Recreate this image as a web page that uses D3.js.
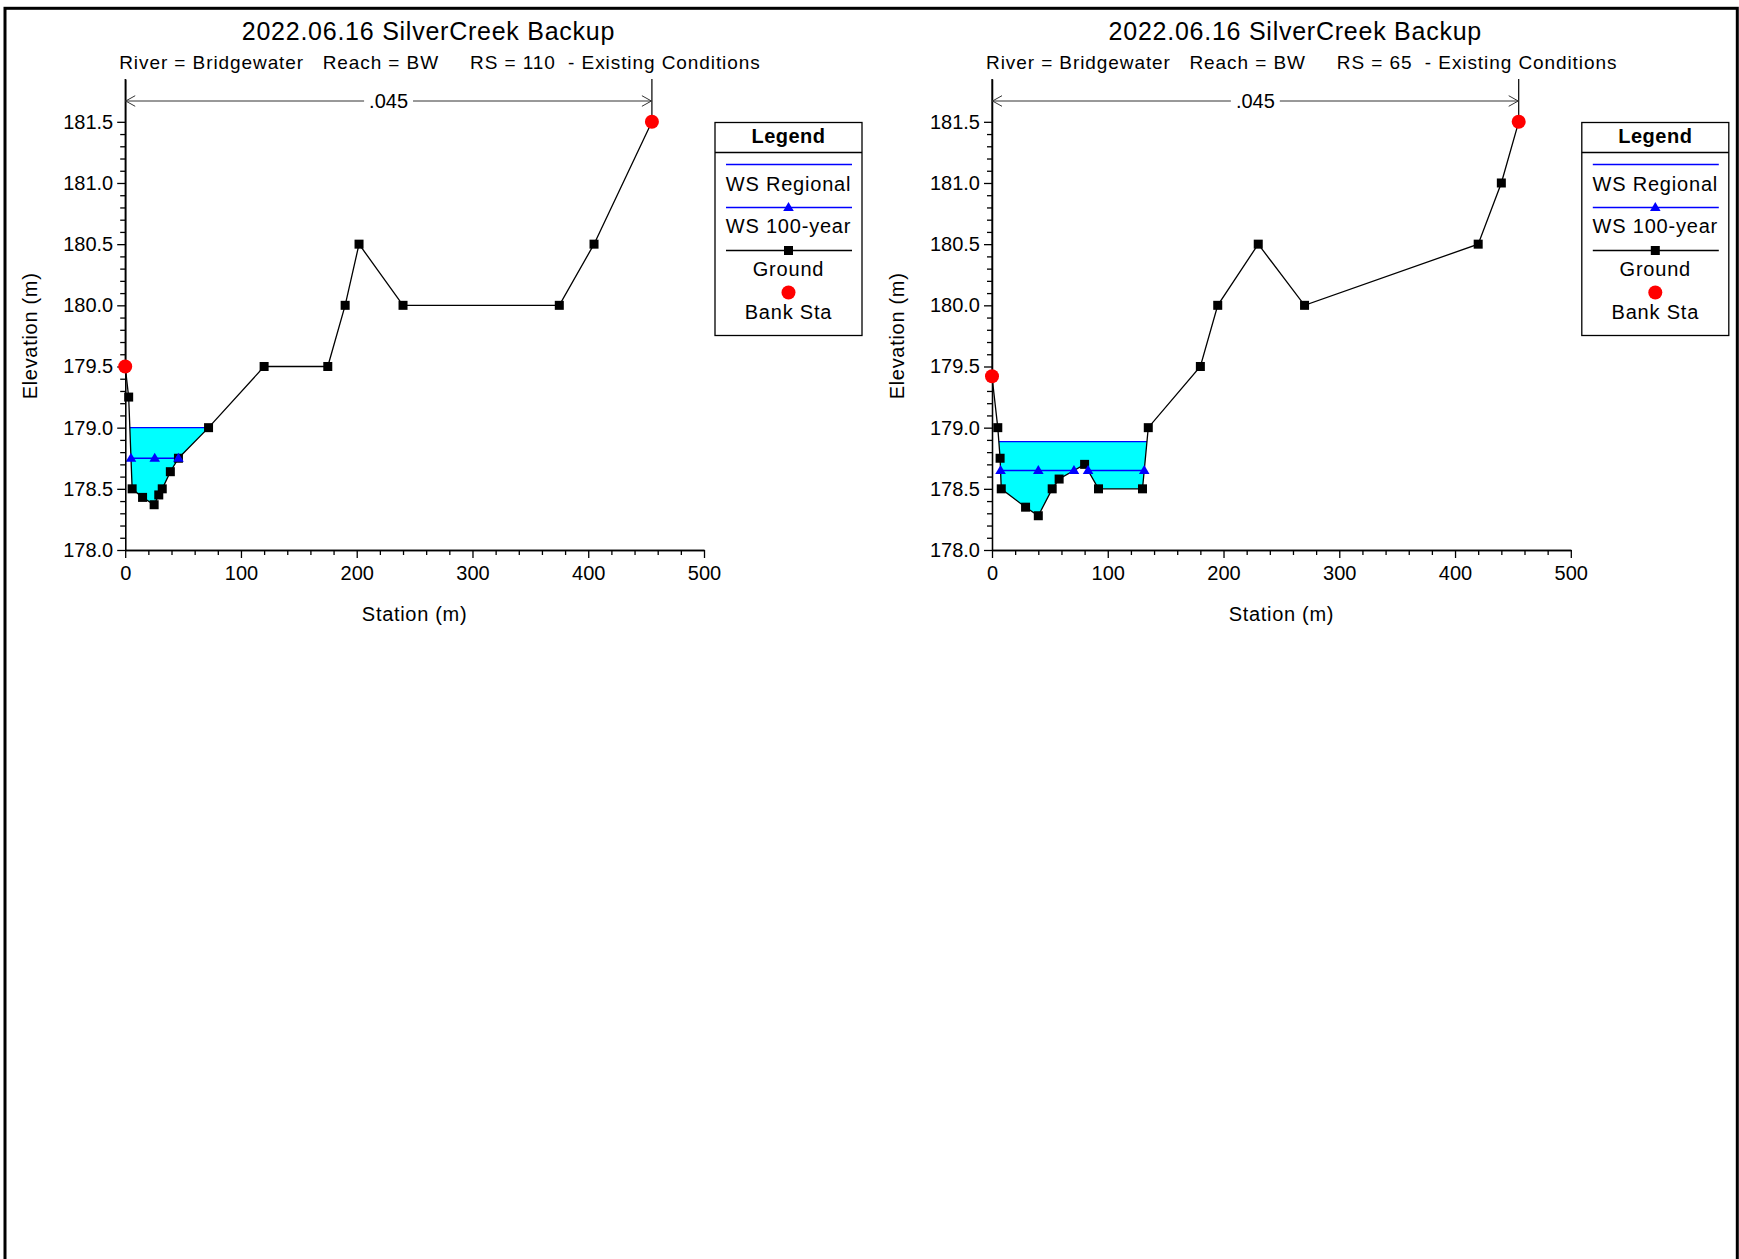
<!DOCTYPE html>
<html>
<head>
<meta charset="utf-8">
<script src="https://cdn.jsdelivr.net/npm/d3@7"></script>
<style>
  html, body { margin: 0; padding: 0; background: #fff; }
  svg { display: block; }
  text { font-family: "Liberation Sans", Arial, Helvetica, sans-serif; fill: #000; }
</style>
</head>
<body>
<svg id="chart" width="1739" height="1259"></svg>
<script>
// ---- Cross-section data -------------------------------------------------
const plotTitle = "2022.06.16 SilverCreek Backup";
const xAxisTitle = "Station (m)";
const yAxisTitle = "Elevation (m)";

const xMajorTicks = [0, 100, 200, 300, 400, 500];
const xMinorStep = 20;
const yMajorTicks = [178.0, 178.5, 179.0, 179.5, 180.0, 180.5, 181.0, 181.5];
const yTickLabels = ["178.0", "178.5", "179.0", "179.5", "180.0", "180.5", "181.0", "181.5"];
const yMinorStep = 0.1;

const legendItems = ["WS Regional", "WS 100-year", "Ground", "Bank Sta"];

// RS 110
const rs110Subtitle = "River = Bridgewater   Reach = BW     RS = 110  - Existing Conditions";
const rs110Station = [0, 3, 6, 15, 25, 29, 32, 39, 46, 72, 120, 175, 190, 202, 240, 375, 405, 455];
const rs110Elev    = [179.5, 179.25, 178.5, 178.43, 178.37, 178.45, 178.5, 178.64, 178.75, 179.0,
                      179.5, 179.5, 180.0, 180.5, 180.0, 180.0, 180.5, 181.5];
const rs110BankSta = [0, 455];
const rs110WsRegional = 179.0;
const rs110Ws100 = 178.75;
const rs110Ws100Marks = [5, 25.5, 46];
const rs110ManningN = ".045";

// RS 65
const rs65Subtitle = "River = Bridgewater   Reach = BW     RS = 65  - Existing Conditions";
const rs65Station = [0, 5, 7, 8, 29, 40, 52, 58, 80, 92, 130, 135, 180, 195, 230, 270, 420, 440, 455];
const rs65Elev    = [179.42, 179.0, 178.75, 178.5, 178.35, 178.28, 178.5, 178.58, 178.7, 178.5,
                     178.5, 179.0, 179.5, 180.0, 180.5, 180.0, 180.5, 181.0, 181.5];
const rs65BankSta = [0, 455];
const rs65WsRegional = 178.886;
const rs65Ws100 = 178.65;
const rs65Ws100Marks = [7.4, 40, 70.8, 83, 131.5];
const rs65ManningN = ".045";

// ---- Layout -------------------------------------------------------------
const panelLeft = [125.2, 992];
const plotW = 578.8;
const plotTop = 79;
const plotBottom = 550;

const BLUE = "#0000ff", CYAN = "#00ffff", RED = "#ff0000";

const svg = d3.select("#chart");

// page frame
svg.append("rect")
  .attr("x", 5).attr("y", 8.3)
  .attr("width", 1732.3).attr("height", 1400)
  .attr("fill", "none").attr("stroke", "#000").attr("stroke-width", 3);

// ground elevation at a given station (linear between survey points)
function elevAt(st, el, s) {
  for (let i = 0; i < st.length - 1; i++) {
    if (s >= st[i] && s <= st[i + 1]) {
      const t = (s - st[i]) / (st[i + 1] - st[i] || 1);
      return el[i] + t * (el[i + 1] - el[i]);
    }
  }
  return s < st[0] ? el[0] : el[el.length - 1];
}

// wetted runs: contiguous reaches where the ground lies below the water surface
function wetRuns(st, el, ws) {
  const runs = [];
  let cur = null;
  for (let i = 0; i < st.length; i++) {
    const below = el[i] < ws;
    if (below) {
      if (!cur) {
        cur = [];
        if (i > 0) {
          const t = (el[i - 1] - ws) / (el[i - 1] - el[i]);
          cur.push([st[i - 1] + t * (st[i] - st[i - 1]), ws]);
        }
      }
      cur.push([st[i], el[i]]);
    } else if (cur) {
      const t = (ws - el[i - 1]) / (el[i] - el[i - 1]);
      cur.push([st[i - 1] + t * (st[i] - st[i - 1]), ws]);
      runs.push(cur);
      cur = null;
    }
  }
  if (cur) runs.push(cur);
  return runs;
}

function trianglePath(cx, cy) {
  return `M${cx},${cy - 5.6} L${cx + 5.3},${cy + 3.6} L${cx - 5.3},${cy + 3.6} Z`;
}

function drawPanel(left, sec) {
  const g = svg.append("g").attr("transform", `translate(${left},0)`);
  const x = d3.scaleLinear().domain([0, 500]).range([0, plotW]);
  const y = d3.scaleLinear().domain([178, 181.85]).range([plotBottom, plotTop]);

  // titles
  g.append("text").attr("x", 303.3).attr("y", 39.5)
    .attr("text-anchor", "middle").attr("font-size", 25).attr("letter-spacing", 0.75)
    .text(plotTitle);
  g.append("text").attr("x", -6).attr("y", 69.3)
    .attr("font-size", 19).attr("letter-spacing", 0.92).style("white-space", "pre")
    .text(sec.subtitle);

  // water: regional fill + surface lines
  const line = d3.line().x(d => x(d[0])).y(d => y(d[1]));
  const regRuns = wetRuns(sec.station, sec.elev, sec.wsRegional);
  regRuns.forEach(run => {
    g.append("path").attr("d", line(run) + "Z").attr("fill", CYAN).attr("stroke", "none");
  });
  regRuns.forEach(run => {
    g.append("line")
      .attr("x1", x(run[0][0])).attr("x2", x(run[run.length - 1][0]))
      .attr("y1", y(sec.wsRegional)).attr("y2", y(sec.wsRegional))
      .attr("stroke", BLUE).attr("stroke-width", 1.3);
  });
  const runs100 = wetRuns(sec.station, sec.elev, sec.ws100);
  runs100.forEach(run => {
    g.append("line")
      .attr("x1", x(run[0][0])).attr("x2", x(run[run.length - 1][0]))
      .attr("y1", y(sec.ws100)).attr("y2", y(sec.ws100))
      .attr("stroke", BLUE).attr("stroke-width", 1.3);
  });

  // ground profile
  const pts = sec.station.map((s, i) => [s, sec.elev[i]]);
  g.append("path").attr("d", line(pts))
    .attr("fill", "none").attr("stroke", "#000").attr("stroke-width", 1.3);
  g.selectAll(null).data(pts).enter().append("rect")
    .attr("x", d => x(d[0]) - 4.5).attr("y", d => y(d[1]) - 4.5)
    .attr("width", 9).attr("height", 9).attr("fill", "#000");

  // WS 100-year markers
  g.selectAll(null).data(sec.ws100Marks).enter().append("path")
    .attr("d", s => trianglePath(x(s), y(sec.ws100)))
    .attr("fill", BLUE);

  // axes
  const axisG = (sel) => {
    sel.attr("font-size", 20).attr("font-family", "\"Liberation Sans\", Arial, sans-serif");
    sel.selectAll("path, line").attr("stroke", "#000").attr("stroke-width", 1.3);
    sel.selectAll("text").attr("fill", "#000");
  };
  const xMinor = d3.range(0, 500 + 1e-9, xMinorStep).filter(v => !xMajorTicks.includes(v));
  g.append("g").attr("transform", `translate(0,${plotBottom})`)
    .call(d3.axisBottom(x).tickValues(xMinor).tickSize(5).tickSizeOuter(0).tickFormat(""))
    .call(axisG);
  g.append("g").attr("transform", `translate(0,${plotBottom})`)
    .call(d3.axisBottom(x).tickValues(xMajorTicks).tickSize(8).tickSizeOuter(0).tickPadding(8).tickFormat(d3.format("d")))
    .call(axisG);

  const yMinor = d3.range(0, 36).map(i => +(178 + i * yMinorStep).toFixed(1))
    .filter(v => !yMajorTicks.includes(v));
  g.append("g")
    .call(d3.axisLeft(y).tickValues(yMinor).tickSize(5).tickSizeOuter(0).tickFormat(""))
    .call(axisG);
  g.append("g")
    .call(d3.axisLeft(y).tickValues(yMajorTicks).tickSize(8).tickSizeOuter(0).tickPadding(4)
      .tickFormat((d, i) => yTickLabels[i]))
    .call(axisG);

  // axis titles
  g.append("text").attr("x", plotW / 2).attr("y", 621)
    .attr("text-anchor", "middle").attr("font-size", 20).attr("letter-spacing", 0.7).text(xAxisTitle);
  g.append("text")
    .attr("transform", `translate(-88.2,${(y(178) + y(181.5)) / 2}) rotate(-90)`)
    .attr("text-anchor", "middle").attr("font-size", 20).attr("letter-spacing", 0.7).text(yAxisTitle);

  // Manning's n span between bank stations
  const xL = x(sec.bankSta[0]), xR = x(sec.bankSta[1]);
  const nY = plotTop + 22;
  sec.bankSta.forEach(s => {
    g.append("line").attr("x1", x(s)).attr("x2", x(s))
      .attr("y1", plotTop).attr("y2", y(elevAt(sec.station, sec.elev, s)))
      .attr("stroke", "#000").attr("stroke-width", 1.2);
  });
  const nText = g.append("text").attr("x", (xL + xR) / 2).attr("y", nY).attr("dy", "0.35em")
    .attr("text-anchor", "middle").attr("font-size", 20).text(sec.manningN);
  const bb = nText.node().getBBox();
  const arrowStroke = "#333";
  g.append("line").attr("x1", xL).attr("x2", bb.x - 5).attr("y1", nY).attr("y2", nY)
    .attr("stroke", arrowStroke).attr("stroke-width", 1);
  g.append("line").attr("x1", bb.x + bb.width + 5).attr("x2", xR).attr("y1", nY).attr("y2", nY)
    .attr("stroke", arrowStroke).attr("stroke-width", 1);
  g.append("path").attr("d", `M${xL + 10},${nY - 5.3} L${xL + 0.5},${nY} L${xL + 10},${nY + 5.3}`)
    .attr("fill", "none").attr("stroke", arrowStroke).attr("stroke-width", 1);
  g.append("path").attr("d", `M${xR - 10},${nY - 5.3} L${xR - 0.5},${nY} L${xR - 10},${nY + 5.3}`)
    .attr("fill", "none").attr("stroke", arrowStroke).attr("stroke-width", 1);

  // bank stations
  g.selectAll(null).data(sec.bankSta).enter().append("circle")
    .attr("cx", s => x(s)).attr("cy", s => y(elevAt(sec.station, sec.elev, s)))
    .attr("r", 7).attr("fill", RED);

  // legend
  const lg = g.append("g").attr("transform", "translate(589.8,122.5)");
  const lw = 147, lh = 213, cx = lw / 2;
  lg.append("rect").attr("width", lw).attr("height", lh)
    .attr("fill", "#fff").attr("stroke", "#000").attr("stroke-width", 1.3);
  lg.append("line").attr("x1", 0).attr("x2", lw).attr("y1", 30).attr("y2", 30)
    .attr("stroke", "#000").attr("stroke-width", 1.3);
  lg.append("text").attr("x", cx).attr("y", 20.5).attr("text-anchor", "middle")
    .attr("font-size", 20).attr("font-weight", "bold").attr("letter-spacing", 0.5).text("Legend");

  const rowY = [42, 85, 128, 170];
  const textY = [68.5, 110.8, 153.3, 196.2];
  // WS Regional
  lg.append("line").attr("x1", 11).attr("x2", lw - 10).attr("y1", rowY[0]).attr("y2", rowY[0])
    .attr("stroke", BLUE).attr("stroke-width", 1.3);
  // WS 100-year
  lg.append("line").attr("x1", 11).attr("x2", lw - 10).attr("y1", rowY[1]).attr("y2", rowY[1])
    .attr("stroke", BLUE).attr("stroke-width", 1.3);
  lg.append("path").attr("d", trianglePath(cx, rowY[1])).attr("fill", BLUE);
  // Ground
  lg.append("line").attr("x1", 11).attr("x2", lw - 10).attr("y1", rowY[2]).attr("y2", rowY[2])
    .attr("stroke", "#000").attr("stroke-width", 1.3);
  lg.append("rect").attr("x", cx - 4.5).attr("y", rowY[2] - 4.5).attr("width", 9).attr("height", 9).attr("fill", "#000");
  // Bank Sta
  lg.append("circle").attr("cx", cx).attr("cy", rowY[3]).attr("r", 7).attr("fill", RED);

  legendItems.forEach((t, i) => {
    lg.append("text").attr("x", cx).attr("y", textY[i]).attr("text-anchor", "middle")
      .attr("font-size", 20).attr("letter-spacing", 0.8).text(t);
  });
}

drawPanel(panelLeft[0], {
  subtitle: rs110Subtitle, station: rs110Station, elev: rs110Elev, bankSta: rs110BankSta,
  wsRegional: rs110WsRegional, ws100: rs110Ws100, ws100Marks: rs110Ws100Marks, manningN: rs110ManningN
});
drawPanel(panelLeft[1], {
  subtitle: rs65Subtitle, station: rs65Station, elev: rs65Elev, bankSta: rs65BankSta,
  wsRegional: rs65WsRegional, ws100: rs65Ws100, ws100Marks: rs65Ws100Marks, manningN: rs65ManningN
});
</script>
</body>
</html>
